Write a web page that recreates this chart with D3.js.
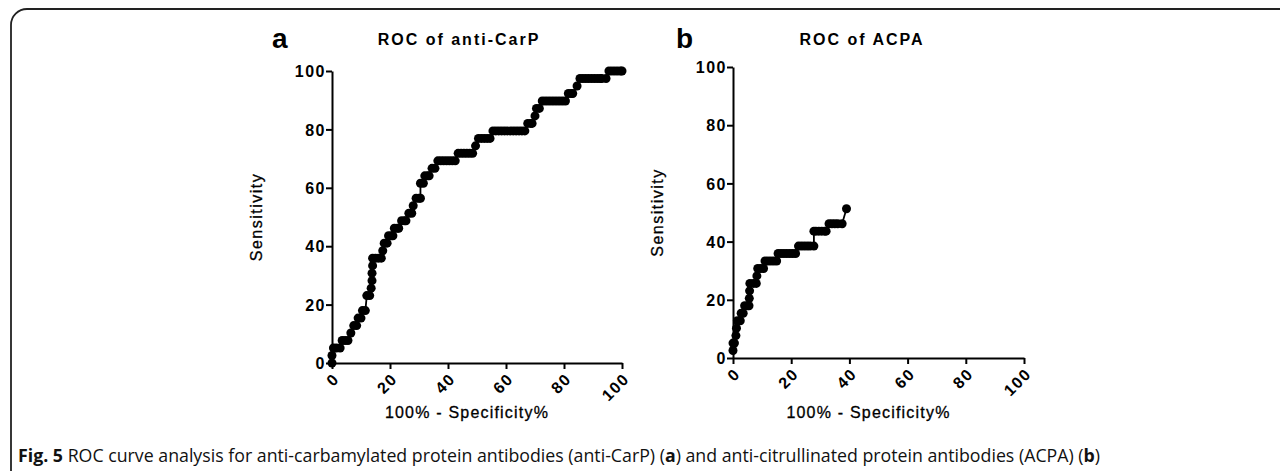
<!DOCTYPE html>
<html lang="en">
<head>
  <meta charset="UTF-8">
  <title>ROC curves: anti-CarP and ACPA</title>
  <script src="https://d3js.org/d3.v7.min.js"></script>
  <style>
    body { margin: 0; background: #fff; }
    svg { display: block; }
    .axis path, .axis line { stroke: #000; stroke-width: 2px; }
    .axis text { font-family: "Liberation Sans", Arial, sans-serif; font-weight: bold; font-size: 16px; letter-spacing: 1.5px; fill: #000; }
  </style>
</head>
<body>
  <svg id="chart" width="1280" height="471"></svg>

  <script>
    // sensitivity steps are 1/39 apart
    const carpX = [0, 0, 0.5, 1.5, 2.8, 3.5, 4.5, 5.5, 6.5, 7.5, 8.5, 9, 10, 10.5, 11.5, 12, 13, 13.5, 13.8, 13.8, 14, 14,
      15, 16, 17, 17.5, 18, 19, 19.5, 20.5, 21, 21.5, 22.5, 23, 24, 25, 25.5, 26.5, 27.5, 28, 29, 30, 30.5, 30.5, 31.5, 32,
      33, 33.5, 34.5, 35.5, 36.5, 37.5, 38.5, 39.5, 40.5, 41.5, 42.5, 43.5, 44.5, 45.5, 46.5, 47.5, 48.5, 49.5, 50.5, 51.5,
      52.5, 53.5, 54.5, 55.5, 56.5, 57.5, 58.5, 59.5, 60.5, 61.5, 62.5, 63.5, 64.5, 65.5, 66.5, 67.5, 68.5, 69, 70, 70.5,
      71.5, 72.5, 73.5, 74.5, 75.5, 76.5, 77.5, 78.5, 79.5, 80.5, 81.5, 82.5, 83, 84.5, 85.5, 86.5, 87.5, 88.5, 89.5, 90.5,
      91.5, 92.5, 93, 94.5, 95.5, 96.5, 97.5, 98.5, 99.5, 100];
    const carpY = [0, 2.56, 5.13, 5.13, 5.13, 7.69, 7.69, 7.69, 10.26, 12.82, 12.82, 15.38, 15.38, 17.95, 17.95, 23.08, 23.08,
      25.64, 28.21, 30.77, 33.33, 35.9, 35.9, 35.9, 35.9, 38.46, 41.03, 41.03, 43.59, 43.59, 43.59, 46.15, 46.15, 46.15,
      48.72, 48.72, 48.72, 51.28, 51.28, 53.85, 56.41, 56.41, 56.41, 61.54, 61.54, 64.1, 64.1, 64.1, 66.67, 66.67, 69.23,
      69.23, 69.23, 69.23, 69.23, 69.23, 69.23, 71.79, 71.79, 71.79, 71.79, 71.79, 71.79, 74.36, 76.92, 76.92, 76.92,
      76.92, 76.92, 79.49, 79.49, 79.49, 79.49, 79.49, 79.49, 79.49, 79.49, 79.49, 79.49, 79.49, 79.49, 82.05, 82.05,
      82.05, 84.62, 87.18, 87.18, 89.74, 89.74, 89.74, 89.74, 89.74, 89.74, 89.74, 89.74, 89.74, 92.31, 92.31, 92.31,
      94.87, 97.44, 97.44, 97.44, 97.44, 97.44, 97.44, 97.44, 97.44, 97.44, 97.44, 100, 100, 100, 100, 100, 100, 100];

    const acpaX = [0, 0, 0.5, 1, 1.2, 1.5, 2.5, 2.8, 3.5, 4, 5, 5.5, 5.6, 5.7, 5.8, 7, 8, 8.2, 8.5, 9.5, 10.5, 11, 12,
      13, 14, 15, 15.5, 16.5, 17.5, 18.5, 19.5, 20.5, 21.5, 22.5, 23.5, 24.5, 25.5, 26.5, 27.8, 27.8, 28.5, 29.5, 30.5,
      31.5, 32, 33, 34, 35, 36, 37.5, 39];
    const acpaY = [2.56, 5.13, 5.13, 7.69, 10.26, 12.82, 12.82, 15.38, 15.38, 17.95, 17.95, 17.95, 20.51, 23.08, 25.64,
      25.64, 25.64, 28.21, 30.77, 30.77, 30.77, 33.33, 33.33, 33.33, 33.33, 33.33, 35.9, 35.9, 35.9, 35.9, 35.9, 35.9,
      35.9, 38.46, 38.46, 38.46, 38.46, 38.46, 38.46, 43.59, 43.59, 43.59, 43.59, 43.59, 43.59, 46.15, 46.15, 46.15,
      46.15, 46.15, 51.28];

    const tickValues = [0, 20, 40, 60, 80, 100];

    const panels = [
      { letter: 'a', title: 'ROC of anti-CarP', xs: carpX, ys: carpY,
        left: 332, right: 622, top: 71, bottom: 363, titleX: 459, letterX: 272 },
      { letter: 'b', title: 'ROC of ACPA', xs: acpaX, ys: acpaY,
        left: 733, right: 1024, top: 67, bottom: 358, titleX: 862, letterX: 676 }
    ];

    const svg = d3.select('#chart');
    const font = '"Liberation Sans", Arial, sans-serif';

    // frame with rounded top-left corner, running off the right and bottom
    svg.append('rect')
      .attr('x', 11).attr('y', 9)
      .attr('width', 1400).attr('height', 600)
      .attr('rx', 16)
      .attr('fill', 'none')
      .attr('stroke', '#222')
      .attr('stroke-width', 1.8);

    panels.forEach(p => {
      const x = d3.scaleLinear().domain([0, 100]).range([p.left, p.right]);
      const y = d3.scaleLinear().domain([0, 100]).range([p.bottom, p.top]);

      const yAxis = svg.append('g')
        .attr('class', 'axis')
        .attr('transform', `translate(${p.left},0)`)
        .call(d3.axisLeft(y).tickValues(tickValues).tickSize(6).tickSizeOuter(0));
      yAxis.selectAll('text').attr('x', -6).attr('dy', '0.36em');

      const xAxis = svg.append('g')
        .attr('class', 'axis')
        .attr('transform', `translate(0,${p.bottom})`)
        .call(d3.axisBottom(x).tickValues(tickValues).tickSize(6).tickSizeOuter(0));
      xAxis.selectAll('text')
        .attr('x', 0).attr('y', 0).attr('dy', '0.35em')
        .attr('text-anchor', 'end')
        .attr('transform', 'translate(4,13) rotate(-45)');

      const pts = p.xs.map((v, i) => [v, p.ys[i]]);

      svg.append('path')
        .datum(pts)
        .attr('fill', 'none')
        .attr('stroke', '#000')
        .attr('stroke-width', 1.8)
        .attr('d', d3.line().x(d => x(d[0])).y(d => y(d[1])));

      svg.append('g').selectAll('circle')
        .data(pts)
        .join('circle')
          .attr('cx', d => x(d[0]))
          .attr('cy', d => y(d[1]))
          .attr('r', 4.5)
          .attr('fill', '#000');

      svg.append('text')
        .attr('x', p.letterX).attr('y', 48)
        .attr('font-family', font).attr('font-weight', 'bold').attr('font-size', 28)
        .text(p.letter);

      svg.append('text')
        .attr('x', p.titleX).attr('y', 45)
        .attr('text-anchor', 'middle')
        .attr('font-family', font).attr('font-weight', 'bold').attr('font-size', 16)
        .attr('letter-spacing', 2)
        .text(p.title);

      svg.append('text')
        .attr('transform', `translate(${p.left - 70},${(p.top + p.bottom) / 2}) rotate(-90)`)
        .attr('text-anchor', 'middle')
        .attr('font-family', font).attr('font-size', 16)
        .attr('letter-spacing', 1.5)
        .attr('stroke', '#000').attr('stroke-width', 0.3)
        .text('Sensitivity');

      svg.append('text')
        .attr('x', (p.left + p.right) / 2 - 10).attr('y', 418)
        .attr('text-anchor', 'middle')
        .attr('font-family', font).attr('font-size', 16)
        .attr('letter-spacing', 1.2)
        .attr('stroke', '#000').attr('stroke-width', 0.3)
        .text('100% - Specificity%');
    });

    // caption
    const cap = svg.append('text')
      .attr('x', 18).attr('y', 462)
      .attr('font-family', '"Open Sans", sans-serif')
      .attr('font-size', 15)
      .attr('fill', '#111');
    const parts = [
      ['Fig. 5', true], [' ROC curve analysis for anti-carbamylated protein antibodies (anti-CarP) (', false],
      ['a', true], [') and anti-citrullinated protein antibodies (ACPA) (', false], ['b', true], [')', false]
    ];
    parts.forEach(([t, b]) => cap.append('tspan').attr('font-weight', b ? 'bold' : 'normal').text(t));
    const w = cap.node().getComputedTextLength();
    cap.attr('font-size', 15 * 1083 / w);
  </script>
</body>
</html>
